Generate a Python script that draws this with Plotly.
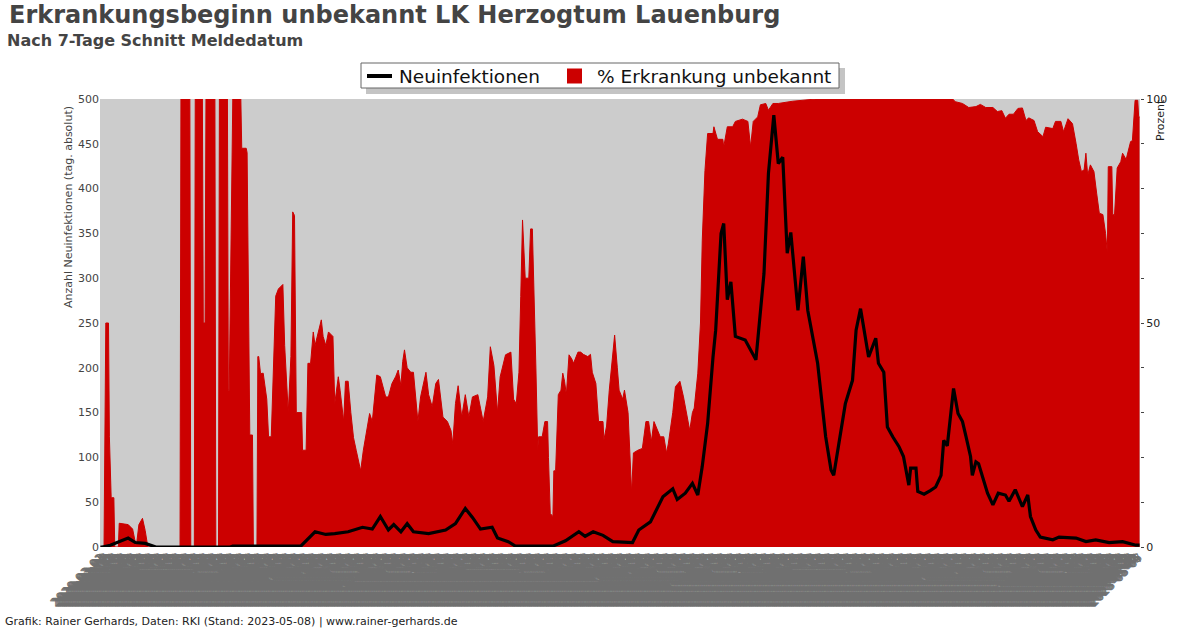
import pandas as pd
import plotly.graph_objects as go

START = "2020-03-01"
N_DAYS = 1163  # 2020-03-01 .. 2023-05-07

# Neuinfektionen (7-Tage-Schnitt): day offset from START, value
cases_day = [0, 2, 11, 22, 31, 39, 50, 62, 145, 148, 224, 240, 252, 262, 277, 293,
             304, 313, 322, 328, 336, 343, 350, 367, 386, 397, 408, 416, 425, 438, 444,
             456, 464, 506, 520, 535, 542, 551, 562, 573, 595, 602, 615, 629, 640, 645,
             654, 662, 668, 673, 679, 685, 688, 694, 697, 701, 705, 710, 721, 733, 742,
             747, 753, 758, 763, 768, 772, 780, 786, 791, 796, 802, 811, 817, 820, 826,
             833, 841, 845, 850, 859, 867, 870, 876, 880, 886, 893, 898, 904, 906, 912,
             914, 921, 928, 934, 940, 943, 947, 951, 954, 959, 964, 968, 973, 975, 979,
             982, 987, 992, 998, 1004, 1012, 1016, 1023, 1031, 1037, 1040, 1046, 1051,
             1065, 1072, 1091, 1102, 1113, 1128, 1143, 1158, 1162]
cases_val = [0, 0, 2, 6, 10, 5, 4, 0, 0, 1, 1, 17, 14, 15, 17, 22,
             20, 34, 19, 25, 17, 26, 17, 15, 19, 26, 43, 33, 20, 22, 10,
             6, 1, 1, 7, 17, 12, 17, 13, 6, 5, 19, 28, 56, 65, 53,
             60, 71, 58, 90, 138, 212, 242, 350, 361, 276, 296, 235, 231, 209, 305,
             417, 482, 428, 435, 328, 351, 264, 324, 264, 235, 205, 123, 86, 80, 115,
             160, 186, 242, 266, 212, 233, 205, 195, 134, 123, 112, 101, 69, 88, 88,
             62, 59, 63, 67, 80, 119, 113, 149, 177, 149, 140, 123, 101, 80, 95,
             93, 77, 60, 47, 60, 58, 51, 64, 45, 58, 34, 19, 11,
             8, 11, 10, 6, 8, 5, 6, 2, 2]

# % Erkrankung unbekannt: day offset from START, percent
pct_day = [0, 4, 6, 9, 10, 12, 15, 16, 20, 21, 31, 36, 38, 40, 43, 47, 50, 53,
           89, 90, 100, 101, 105, 106, 114, 115, 117, 118, 128, 129, 132, 133, 142, 143,
           144, 146, 148, 157, 158, 163, 164, 167, 170, 171, 175, 176, 177, 179, 182, 186,
           188, 191, 196, 199, 204, 206, 209, 210, 213, 215, 217, 219, 225, 226, 230, 232,
           235, 237, 238, 240, 244, 247, 249, 252, 255, 260, 262, 266, 268, 272, 274, 277,
           280, 283, 286, 291, 294, 299, 301, 304, 309, 313, 319, 322, 326, 330, 333, 336,
           338, 340, 343, 347, 350, 355, 358, 364, 367, 371, 375, 378, 383, 388, 392, 394,
           397, 400, 404, 408, 412, 416, 422, 425, 428, 433, 436, 440, 444, 447, 453, 459,
           462, 465, 468, 470, 472, 475, 479, 481, 483, 487, 489, 490, 494, 497, 500, 501,
           503, 506, 507, 509, 512, 515, 517, 519, 521, 524, 527, 529, 534, 537, 540, 545,
           548, 550, 554, 557, 562, 563, 566, 569, 573, 575, 578, 580, 584, 586, 590, 592,
           594, 596, 601, 606, 610, 613, 616, 619, 623, 626, 630, 633, 635, 640, 643, 648,
           652, 657, 659, 662, 664, 668, 671, 673, 676, 679, 685, 686, 690, 696, 697, 701,
           707, 710, 718, 724, 727, 730, 735, 738, 744, 747, 752, 758, 774, 800, 953, 956,
           964, 971, 979, 984, 990, 998, 1003, 1008, 1012, 1016, 1021, 1026, 1031, 1035,
           1038, 1044, 1048, 1054, 1057, 1065, 1068, 1074, 1077, 1082, 1087, 1091, 1094,
           1097, 1100, 1102, 1104, 1107, 1111, 1114, 1117, 1121, 1124, 1126, 1127, 1131,
           1132, 1134, 1137, 1141, 1143, 1147, 1149, 1152, 1154, 1157, 1160, 1161, 1162]
pct_val = [0, 0, 50, 50, 24.6, 11, 11, 0, 0, 5.3, 5, 4, 2, 0, 5, 6.4, 3.7, 0,
           0, 100, 100, 0, 0, 100, 100, 50, 50, 100, 100, 0, 0, 100, 100, 35,
           35, 70, 100, 100, 89, 89, 88, 25, 25, 0, 0, 42.5, 42.5, 38.7, 38.8, 33,
           24.6, 24.6, 56, 57.6, 58.6, 45, 33, 30, 42.5, 74.8, 74, 30, 30, 21.6, 21.6, 41,
           41, 47, 48, 45, 48.4, 50.7, 47, 45, 48, 47, 32, 38, 35, 28, 37, 37,
           30, 24.4, 21.6, 17, 21.6, 26.9, 29.8, 28, 38.4, 38, 33.5, 33.5, 36.5, 38, 39.5, 36,
           41.4, 44, 40, 39, 39, 28, 33.5, 39, 34, 31.3, 36.5, 37.4, 29, 28, 26, 23,
           32, 36, 29, 34, 29, 33.5, 34, 31, 28, 33.5, 44.7, 40.5, 30, 38, 42.9, 43.5,
           33, 32, 39, 55.9, 73, 60, 60, 71, 71, 39.5, 21.7, 24.6, 24.6, 28, 28, 20,
           7.5, 6.8, 17, 17, 34, 35, 38.8, 37, 34, 42.9, 42, 41, 43.5, 43.5, 43, 42.5,
           43, 39, 36.5, 28, 28, 23.9, 27, 35, 44, 47.3, 40, 35, 33, 35, 30, 20,
           12, 21, 21.6, 22, 28, 28, 23.5, 28, 26, 24.6, 24.6, 21, 23, 30, 35.8, 37,
           33.5, 28, 26, 30, 31, 38.8, 50, 68.5, 84, 92.3, 92.3, 93.8, 91, 91, 89.3, 93.8,
           93.8, 95, 95.5, 95, 89.3, 95, 96, 98.7, 99, 97.5, 99, 99, 99.5, 100, 100, 99.4,
           99, 98.1, 98.3, 98.8, 98.1, 98.1, 97.2, 97.4, 95.7, 96.6, 96.6, 97.9, 98, 95.2,
           95.8, 95.2, 92.7, 91.6, 93.7, 93.4, 95, 95, 92.7, 95.6, 94.5, 90.1, 86.4,
           83.8, 84.2, 87.9, 83, 85.3, 83.8, 79, 74.5, 74.2, 70, 65.6, 84.9, 84.9,
           74.3, 74, 84.6, 86, 87.9, 86.5, 87.9, 90.5, 90.7, 99.7, 99.7, 96, 96]

LEGEND_LABELS = ["Neuinfektionen", "% Erkrankung unbekannt"]

assert len(cases_day) == len(cases_val), (len(cases_day), len(cases_val))
assert len(pct_day) == len(pct_val), (len(pct_day), len(pct_val))

start = pd.Timestamp(START)
all_dates = pd.date_range(start, periods=N_DAYS, freq="D")
date_labels = [d.strftime("%Y-%m-%d") for d in all_dates]

cases_x = [start + pd.Timedelta(days=d) for d in cases_day]
pct_x = [start + pd.Timedelta(days=d) for d in pct_day]

TXT = "#444444"
FONT = "DejaVu Sans"
RED = "#cc0000"

fig = go.Figure()
fig.add_trace(go.Scatter(
    x=pct_x, y=pct_val, yaxis="y", name=LEGEND_LABELS[1],
    mode="lines", line=dict(color=RED, width=1),
    fill="tozeroy", fillcolor=RED, showlegend=False,
))
fig.add_trace(go.Scatter(
    x=cases_x, y=cases_val, yaxis="y2", name=LEGEND_LABELS[0],
    mode="lines", line=dict(color="#000000", width=3.2), showlegend=False,
))

x0 = start - pd.Timedelta(hours=12)
x1 = all_dates[-1] + pd.Timedelta(hours=12)

def py(pix):
    return (547 - pix) / 448.0

def px(pix):
    return (pix - 100) / 1040.0

fig.update_layout(
    width=1200, height=628,
    margin=dict(l=100, r=60, t=99, b=81, autoexpand=False),
    paper_bgcolor="white", plot_bgcolor="#cccccc",
    font=dict(family=FONT, color=TXT, size=11),
    showlegend=False,
    xaxis=dict(
        type="date", range=[x0, x1], showgrid=False, zeroline=False, automargin=False,
        tickmode="array", tickvals=list(all_dates), ticktext=date_labels,
        tickangle=-45, tickfont=dict(size=12, color="#707070"), ticks="",
    ),
    yaxis=dict(
        side="right", range=[0, 100], showgrid=False, zeroline=False, automargin=False,
        tickmode="array", tickvals=list(range(0, 101, 10)),
        ticktext=["0", "", "", "", "", "50", "", "", "", "", "100"],
        ticks="outside", ticklen=3, tickcolor=TXT,
        tickfont=dict(size=11, color="#222222"),
    ),
    yaxis2=dict(
        overlaying="y", side="left", range=[0, 500], showgrid=False, automargin=False,
        zeroline=False, tickmode="linear", tick0=0, dtick=50,
        tickfont=dict(size=11, color=TXT), ticks="",
    ),
)

# legend box (drawn by hand to match the original's compact layout)
shapes = [
    dict(type="rect", x0=px(366), x1=px(845), y0=py(94), y1=py(68),
         fillcolor="#c4c4c4", line=dict(width=0)),
    dict(type="rect", x0=px(361), x1=px(839), y0=py(88), y1=py(63),
         fillcolor="white", line=dict(color="#666666", width=1)),
    dict(type="line", x0=px(367), x1=px(392), y0=py(76), y1=py(76),
         line=dict(color="black", width=4)),
    dict(type="rect", x0=px(567), x1=px(582), y0=py(83.5), y1=py(68.5),
         fillcolor=RED, line=dict(width=0)),
]
for s in shapes:
    fig.add_shape(xref="paper", yref="paper", layer="above", **s)

annots = [
    dict(text="<b>Erkrankungsbeginn unbekannt LK Herzogtum Lauenburg</b>",
         x=px(7), y=py(15), xanchor="left", yanchor="middle", font=dict(size=24, color=TXT)),
    dict(text="<b>Nach 7-Tage Schnitt Meldedatum</b>",
         x=px(5), y=py(41), xanchor="left", yanchor="middle", font=dict(size=16, color=TXT)),
    dict(text="Anzahl Neuinfektionen (tag. absolut)", textangle=-90,
         x=px(68), y=py(207), xanchor="center", yanchor="middle", font=dict(size=11, color=TXT)),
    dict(text="Prozent", textangle=-90,
         x=px(1161), y=py(97), xanchor="center", yanchor="top", font=dict(size=11, color="#222222")),
    dict(text="Grafik: Rainer Gerhards, Daten: RKI (Stand: 2023-05-08) | www.rainer-gerhards.de",
         x=px(3), y=py(621), xanchor="left", yanchor="middle", font=dict(size=11, color="#222222")),
    dict(text=LEGEND_LABELS[0], x=px(397), y=py(76.5), xanchor="left", yanchor="middle",
         font=dict(size=18.5, color="#111111")),
    dict(text=LEGEND_LABELS[1], x=px(595), y=py(76.5), xanchor="left", yanchor="middle",
         font=dict(size=18.5, color="#111111")),
]
for a in annots:
    fig.add_annotation(xref="paper", yref="paper", showarrow=False, **a)

fig.write_html("out.html", config={"displayModeBar": False},
               post_script="document.body.style.margin='0px';document.body.style.overflow='hidden';")
